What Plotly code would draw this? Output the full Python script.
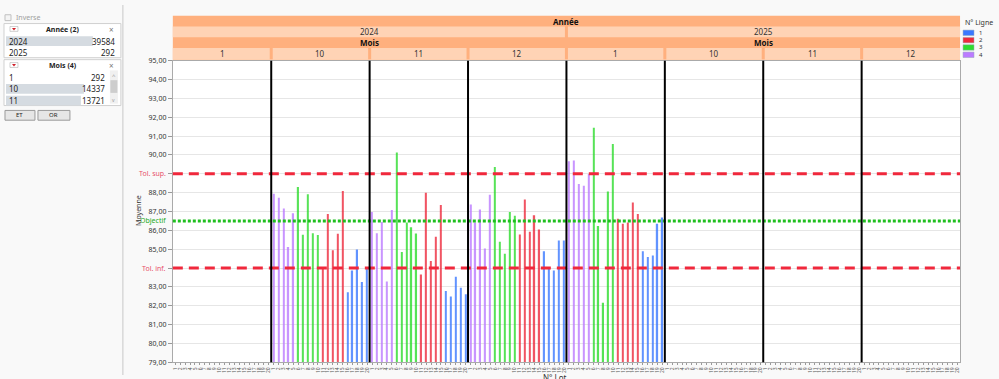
import plotly.graph_objects as go

W, H = 999, 379

# ---------------- data ----------------
years = ["2024", "2025"]
months = ["1", "10", "11", "12"]
panel_labels = [(y, m) for y in years for m in months]          # 8 panels
pos_labels = [str(i) for i in range(1, 21)]                    # 20 positions per panel
filled_panels = [1, 2, 3, 4]                                   # 2024-10, 2024-11, 2024-12, 2025-1

lignes = ["1", "2", "3", "4"]
ligne_colors = {"1": "#3A78FF", "2": "#EE2A3C", "3": "#2EDC2E", "4": "#BB7BFF"}
ligne_offset = {"4": 0, "3": 5, "2": 10, "1": 15}

ligne4 = [87.94, 87.73, 87.16, 85.11, 86.90,
          86.97, 85.85, 86.44, 83.28, 87.08,
          87.37, 86.42, 87.11, 85.04, 87.89,
          89.67, 89.70, 88.46, 88.36, 88.99]
ligne3 = [88.30, 85.77, 87.91, 85.85, 85.75,
          90.13, 84.85, 86.42, 86.16, 85.83,
          89.36, 85.40, 84.76, 86.97, 86.78,
          91.44, 86.23, 82.16, 88.06, 90.58]
ligne2 = [84.04, 86.87, 84.94, 85.82, 88.09,
          83.66, 87.99, 84.38, 85.66, 87.34,
          85.78, 87.63, 85.92, 86.80, 86.04,
          86.61, 86.35, 86.42, 87.47, 86.87]
ligne1 = [82.71, 83.87, 84.99, 83.26, 84.06,
          82.78, 82.49, 83.54, 82.95, 82.61,
          84.89, 84.04, 83.87, 85.46, 85.46,
          84.89, 84.59, 84.66, 86.35, 86.68]
ligne_values = {"1": ligne1, "2": ligne2, "3": ligne3, "4": ligne4}

tol_sup, objectif, tol_inf = 89.0, 86.5, 84.0
y_ticks = list(range(79, 96))

# filter panel content
annee_rows = [("2024", "39584", 87), ("2025", "292", 0)]
mois_rows = [("1", "292", 0), ("10", "14337", 78), ("11", "13721", 75)]

# ---------------- helpers ----------------
def X(px): return px / W
def Y(py): return 1 - py / H

PL, PR, PT, PB = 172, 960, 57, 366
FONT = "Noto Sans"

shapes, ann = [], []

def txt(text, x, y, size=7, color="#333", xanchor="center", yanchor="middle", yref="paper", **kw):
    ann.append(dict(text=text, xref="paper", yref=yref, x=x, y=y, xanchor=xanchor, yanchor=yanchor,
                    showarrow=False, font=dict(size=size, color=color, family=FONT), **kw))

def rect(x0, x1, y0, y1, fill, line=None, layer="above"):
    shapes.append(dict(type="rect", xref="paper", yref="paper", x0=X(x0), x1=X(x1), y0=Y(y1), y1=Y(y0),
                       fillcolor=fill, line=line if line else dict(width=0), layer=layer))

fig = go.Figure()
for lg in ["4", "3", "2", "1"]:
    xs, ys = [], []
    vals = ligne_values[lg]
    for k, p in enumerate(filled_panels):
        for j in range(5):
            xs.append(p * 20 + ligne_offset[lg] + j)
            ys.append(vals[k * 5 + j])
    fig.add_trace(go.Bar(x=xs, y=ys, width=0.27, marker_color=ligne_colors[lg],
                         marker_line_width=0, opacity=0.8, showlegend=False, name=lg))

# reference lines
for v, c, d in [(tol_sup, "#F0283C", "10px,6px"), (tol_inf, "#F0283C", "10px,6px"),
                (objectif, "#1FBF1F", "3px,2px")]:
    shapes.append(dict(type="line", xref="x domain", yref="y", x0=0, x1=1, y0=v, y1=v,
                       line=dict(color=c, width=3, dash=d)))
for t, v, c in [("Tol. sup.", tol_sup, "#E8506A"), ("Tol. inf.", tol_inf, "#E8506A"),
                ("Objectif", objectif, "#22AA22")]:
    txt(t, X(167), v, size=7, color=c, xanchor="right", yref="y")

# panel separators
for k in range(1, 8):
    shapes.append(dict(type="line", xref="x", yref="y domain", x0=k * 20 - 0.5, x1=k * 20 - 0.5,
                       y0=0, y1=1, line=dict(color="black", width=2)))

# header bands
DARK, LIGHT = "#FFB07E", "#FFD3B5"
rect(PL, PR, 11, 56, DARK, layer="below")
pw = (PR - PL) / 8
for yi in range(2):
    xa, xb = PL + yi * 4 * pw, PL + (yi + 1) * 4 * pw
    rect(xa + (1.5 if yi else 0), xb - (0 if yi else 1.5), 22, 33, LIGHT, layer="below")
    txt(years[yi], X((xa + xb) / 2), Y(27.5), size=8)
    txt("<b>Mois</b>", X((xa + xb) / 2), Y(38.5), size=8, color="#111")
for k in range(8):
    rect(PL + k * pw + (1.5 if k else 0), PL + (k + 1) * pw - (1.5 if k < 7 else 0), 44, 56, LIGHT,
         layer="below")
    txt(panel_labels[k][1], X(PL + (k + 0.5) * pw), Y(50), size=8)
txt("<b>Année</b>", X((PL + PR) / 2), Y(16.5), size=8, color="#111")

# axis titles
txt("Moyenne", X(137), Y(210), size=7, textangle=-90)
txt("N° Lot", X(555), Y(374), size=8, yanchor="top")

# legend
txt("N° Ligne", X(963), Y(18), size=7, xanchor="left")
for i, lg in enumerate(lignes):
    yc = 28.5 + i * 7.5
    rect(963, 974, yc - 2.8, yc + 2.8, ligne_colors[lg], line=dict(color="#9ab", width=0.5))
    txt(lg, X(977), Y(yc), size=6, xanchor="left")

# left filter panel
shapes.append(dict(type="line", xref="paper", yref="paper", x0=X(122), x1=X(122), y0=0, y1=1,
                   line=dict(color="#C8C8C8", width=1)))
rect(4, 10, 10, 16, "#F4F4F4", line=dict(color="#C0C0C0", width=1))
txt("Inverse", X(13), Y(13), size=7, color="#A0A0A0", xanchor="left")

def filter_box(top, bottom, title, rows, scroll=False):
    rect(3, 120, top, bottom, "white", line=dict(color="#D0D0D0", width=1))
    rect(9, 17, top + 3, top + 8, "white", line=dict(color="#B0B0B0", width=0.6))
    shapes.append(dict(type="path", xref="paper", yref="paper",
                       path=f"M {X(11)} {Y(top + 4.5)} L {X(15)} {Y(top + 4.5)} L {X(13)} {Y(top + 7)} Z",
                       fillcolor="#D0202A", line=dict(width=0)))
    txt(f"<b>{title}</b>", X(62), Y(top + 6), size=7, color="#222")
    txt("×", X(111), Y(top + 6), size=8, color="#777")
    right = 106 if scroll else 116
    for i, (lab, cnt, barw) in enumerate(rows):
        yc = top + 18 + i * 12
        if barw:
            rect(5, 5 + barw, yc - 5, yc + 5, "#D5DBE1")
        txt(lab, X(6), Y(yc), size=8, color="#222", xanchor="left")
        txt(cnt, X(right), Y(yc), size=8, color="#222", xanchor="right")
    if scroll:
        rect(109, 117, top + 11, bottom - 2, "#F0F0F0")
        rect(109.5, 116.5, 77, 90, "#CDCDCD")
        txt("^", X(113), Y(73), size=6, color="#999")
        txt("v", X(113), Y(97), size=5, color="#999")

filter_box(19, 54, "Année (2)", annee_rows)
filter_box(56, 103, "Mois (4)", mois_rows, scroll=True)
for lab, x0, x1 in [("ET", 4, 34), ("OR", 37, 69)]:
    rect(x0, x1, 108, 118, "#E6E6E6", line=dict(color="#9A9A9A", width=1))
    txt(lab, X((x0 + x1) / 2), Y(113), size=6, color="#222")

tickvals = list(range(160))
ticktext = [pos_labels[i % 20] for i in tickvals]
ytext = ["" if v in (tol_sup, tol_inf) else f"{v},00" for v in y_ticks]

fig.update_layout(
    width=W, height=H, margin=dict(l=0, r=0, t=0, b=0),
    paper_bgcolor="#F9F9F9", plot_bgcolor="white",
    barmode="overlay", showlegend=False,
    font=dict(family=FONT, size=7, color="#333"),
    shapes=shapes, annotations=ann,
    xaxis=dict(domain=[X(PL), X(PR)], range=[-0.5, 159.5], tickvals=tickvals, ticktext=ticktext,
               tickangle=-90, tickfont=dict(size=5, color="#555"), ticks="outside", ticklen=2,
               tickcolor="#999", showgrid=False, showline=True, linecolor="#AAAAAA", mirror=True,
               zeroline=False, fixedrange=True),
    yaxis=dict(domain=[Y(PB), Y(PT)], range=[79, 95], tickvals=y_ticks, ticktext=ytext,
               tickfont=dict(size=7, color="#333"),
               ticks="outside", ticklen=4, tickcolor="#999", showgrid=True, gridcolor="#E6E6E6",
               showline=True, linecolor="#AAAAAA", mirror=True, zeroline=False, fixedrange=True),
)

fig.write_html("out.html", config={"displayModeBar": False},
               post_script="document.body.style.margin='0';document.body.style.overflow='hidden';")
